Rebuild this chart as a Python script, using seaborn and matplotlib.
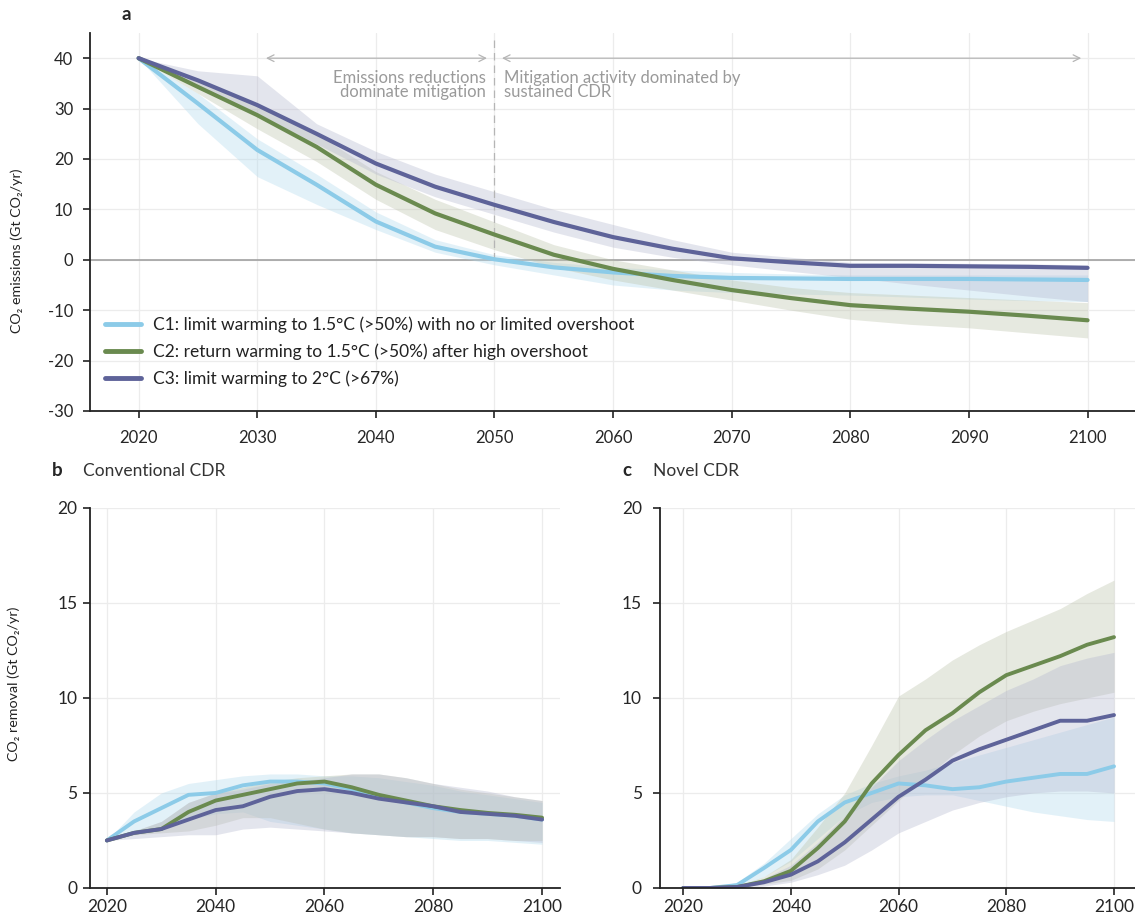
import numpy as np
import pandas as pd
import matplotlib.pyplot as plt
import seaborn as sns

sns.set_theme(style="white")
plt.rcParams['font.family'] = ['Lato', 'DejaVu Sans']
plt.rcParams['axes.unicode_minus'] = False

years = list(range(2020, 2101, 5))
names = ['C1: limit warming to 1.5°C (>50%) with no or limited overshoot',
         'C2: return warming to 1.5°C (>50%) after high overshoot',
         'C3: limit warming to 2°C (>67%)']
line_cols = ['#8ccbe8', '#6a8a4f', '#5e6399']
band_cols = ['#b0daee', '#bcc2a9', '#b4b7cf']

# panel a: net CO2 emissions (median + range)
a_c1 = [40, 31, 21.8, 14.9, 7.6, 2.6, 0.1, -1.5, -2.5, -3.2, -3.6, -3.7, -3.8, -3.8, -3.8, -3.9, -4.0]
a_c2 = [40, 34.3, 28.7, 22.4, 14.9, 9.2, 5.0, 1.0, -1.8, -4.0, -6.0, -7.6, -9.0, -9.7, -10.3, -11.1, -12.0]
a_c3 = [40, 35.6, 30.7, 25.0, 19.1, 14.5, 10.9, 7.5, 4.5, 2.2, 0.3, -0.5, -1.2, -1.2, -1.3, -1.4, -1.6]
a_c1_lo = [40, 27, 16.5, 11, 6, 1.5, -1, -3, -5, -6, -6.5, -6.8, -7, -7.4, -7.8, -8.1, -8.3]
a_c1_hi = [40, 33, 24, 17, 9.5, 4, 1, -0.5, -1.5, -2, -2.5, -2.8, -3, -3, -3, -3, -3]
a_c2_lo = [40, 33, 26, 19.5, 12, 6, 2, -1.5, -4, -6, -8, -10, -11.8, -12.8, -13.5, -14.5, -15.5]
a_c2_hi = [40, 35.5, 31, 25, 17.5, 12, 7.5, 3, 0, -2, -4, -5.5, -6.5, -7, -7.5, -8, -8.5]
a_c3_lo = [40, 34, 29, 23, 17, 12.5, 9, 5.5, 2.5, 0.5, -1, -2.3, -3.5, -4.8, -6, -7.2, -8.3]
a_c3_hi = [40, 37.5, 36.5, 27, 21.5, 17, 13.5, 10, 7, 4, 1.5, 0.5, -0.5, -0.6, -0.7, -0.8, -1]

# panel b: conventional CDR
b_c1 = [2.5, 3.5, 4.2, 4.9, 5.0, 5.4, 5.6, 5.6, 5.5, 5.2, 4.8, 4.5, 4.2, 4.0, 3.9, 3.8, 3.6]
b_c2 = [2.5, 2.9, 3.1, 4.0, 4.6, 4.9, 5.2, 5.5, 5.6, 5.3, 4.9, 4.6, 4.3, 4.1, 3.95, 3.85, 3.7]
b_c3 = [2.5, 2.9, 3.1, 3.6, 4.1, 4.3, 4.8, 5.1, 5.2, 5.0, 4.7, 4.5, 4.3, 4.0, 3.9, 3.8, 3.6]
b_c1_lo = [2.5, 3.0, 3.2, 3.6, 3.9, 4.0, 3.5, 3.3, 3.1, 2.9, 2.8, 2.7, 2.6, 2.5, 2.5, 2.4, 2.3]
b_c1_hi = [2.5, 4.0, 5.0, 5.5, 5.7, 5.9, 6.0, 6.0, 5.9, 5.9, 5.8, 5.6, 5.4, 5.1, 4.9, 4.7, 4.5]
b_c2_lo = [2.5, 2.8, 2.9, 3.0, 3.3, 3.7, 3.7, 3.4, 3.1, 2.9, 2.8, 2.7, 2.7, 2.6, 2.6, 2.5, 2.5]
b_c2_hi = [2.5, 3.0, 3.5, 4.5, 5.0, 5.3, 5.6, 5.8, 5.9, 6.0, 6.0, 5.8, 5.5, 5.2, 5.0, 4.8, 4.6]
b_c3_lo = [2.5, 2.6, 2.7, 2.8, 2.8, 3.1, 3.2, 3.1, 3.0, 2.9, 2.8, 2.7, 2.7, 2.6, 2.6, 2.5, 2.4]
b_c3_hi = [2.5, 3.0, 3.5, 4.5, 5.0, 5.2, 5.5, 5.6, 5.8, 6.0, 6.0, 5.8, 5.5, 5.3, 5.1, 4.8, 4.6]

# panel c: novel CDR
c_c1 = [0, 0, 0.15, 1.05, 2.0, 3.5, 4.5, 5.0, 5.5, 5.4, 5.2, 5.3, 5.6, 5.8, 6.0, 6.0, 6.4]
c_c2 = [0, 0, 0.05, 0.35, 0.9, 2.1, 3.5, 5.5, 7.0, 8.3, 9.2, 10.3, 11.2, 11.7, 12.2, 12.8, 13.2]
c_c3 = [0, 0, 0.05, 0.3, 0.7, 1.4, 2.4, 3.6, 4.8, 5.7, 6.7, 7.3, 7.8, 8.3, 8.8, 8.8, 9.1]
c_c1_lo = [0, 0, 0, 0.6, 1.4, 2.6, 3.8, 4.5, 4.8, 4.9, 4.9, 4.6, 4.3, 4.0, 3.8, 3.6, 3.5]
c_c1_hi = [0, 0, 0.3, 1.3, 2.6, 3.9, 4.9, 5.5, 5.9, 6.2, 6.6, 7.0, 7.4, 7.8, 8.2, 8.6, 9.0]
c_c2_lo = [0, 0, 0, 0.2, 0.4, 1.0, 2.0, 3.3, 4.6, 5.8, 7.0, 8.0, 8.8, 9.3, 9.7, 10.0, 10.3]
c_c2_hi = [0, 0, 0.1, 0.6, 1.5, 3.2, 5.0, 7.5, 10.1, 11.0, 12.0, 12.8, 13.5, 14.1, 14.7, 15.5, 16.2]
c_c3_lo = [0, 0, 0, 0.1, 0.3, 0.7, 1.2, 2.0, 2.9, 3.5, 4.1, 4.5, 4.8, 5.0, 5.1, 5.1, 5.0]
c_c3_hi = [0, 0, 0.1, 0.5, 1.2, 2.4, 3.8, 5.3, 6.7, 7.8, 8.8, 9.6, 10.4, 11.0, 11.7, 12.1, 12.4]


def long_df(c1, c2, c3):
    return pd.DataFrame({'year': years * 3,
                         'value': c1 + c2 + c3,
                         'scenario': [names[0]] * len(years) + [names[1]] * len(years) + [names[2]] * len(years)})


def draw(ax, meds, bands, lw):
    for (lo, hi), col in zip(bands, band_cols):
        ax.fill_between(years, lo, hi, color=col, alpha=0.36, lw=0)
    sns.lineplot(data=long_df(*meds), x='year', y='value', hue='scenario',
                 palette=line_cols, linewidth=lw, ax=ax, legend=(ax is ax_a))
    ax.grid(True, color='#ececec', lw=0.9)
    ax.set_axisbelow(True)
    for s in ['top', 'right']:
        ax.spines[s].set_visible(False)
    for s in ['left', 'bottom']:
        ax.spines[s].set_color('#222222')
        ax.spines[s].set_linewidth(1.3)
    ax.set_xlabel('')


fig = plt.figure(figsize=(11.35, 9.24), dpi=100)
ax_a = fig.add_axes([0.0793, 0.5552, 0.9207, 0.4091])
ax_b = fig.add_axes([0.0793, 0.0390, 0.4141, 0.4113])
ax_c = fig.add_axes([0.5815, 0.0390, 0.4185, 0.4113])

# panel a
ax_a.axhline(0, color='#9a9a9a', lw=1.1, zorder=1)
draw(ax_a, [a_c1, a_c2, a_c3],
     [(a_c1_lo, a_c1_hi), (a_c2_lo, a_c2_hi), (a_c3_lo, a_c3_hi)], 3.0)
ax_a.set_xlim(2015.9, 2104)
ax_a.set_ylim(-30, 45)
ax_a.set_xticks(range(2020, 2101, 10))
ax_a.set_yticks(range(-30, 41, 10))
ax_a.tick_params(axis='x', length=5, width=1.2, color='#222222', pad=9, labelsize=12, bottom=True)
ax_a.tick_params(axis='y', length=5, width=1.2, color='#222222', pad=7, labelsize=12, left=True)
ax_a.set_ylabel('CO₂ emissions (Gt CO₂/yr)', fontsize=10.3, color='#222222')
ax_a.yaxis.set_label_coords(-0.064, 0.425)

# annotations on panel a
ax_a.plot([2050, 2050], [0, 44], color='#b5b5b5', lw=0.9, ls=(0, (6, 4)), zorder=1)
ax_a.annotate('', xy=(2049.6, 40), xytext=(2030.5, 40),
              arrowprops=dict(arrowstyle='<->', color='#b5b5b5', lw=0.9))
ax_a.annotate('', xy=(2099.7, 40), xytext=(2050.4, 40),
              arrowprops=dict(arrowstyle='<->', color='#b5b5b5', lw=0.9))
ax_a.text(2049.3, 37.6, 'Emissions reductions\ndominate mitigation', ha='right', va='top',
          fontsize=12, color='#9a9a9a', linespacing=0.8)
ax_a.text(2050.8, 37.6, 'Mitigation activity dominated by\nsustained CDR', ha='left', va='top',
          fontsize=12, color='#9a9a9a', linespacing=0.8)

leg = ax_a.legend(loc='upper left', bbox_to_anchor=(0.014, 0.25), frameon=False,
                  fontsize=12.5, handlelength=2.1, handletextpad=0.7, labelspacing=0.6,
                  borderpad=0, borderaxespad=0)
for h in leg.get_lines():
    h.set_linewidth(3.5)
for t in leg.get_texts():
    t.set_color('#222222')

# panel b
draw(ax_b, [b_c1, b_c2, b_c3],
     [(b_c1_lo, b_c1_hi), (b_c2_lo, b_c2_hi), (b_c3_lo, b_c3_hi)], 2.8)
ax_b.set_xlim(2016.9, 2103.3)
ax_b.set_ylim(0, 20)
ax_b.set_ylabel('CO₂ removal (Gt CO₂/yr)', fontsize=10.3, color='#222222')
ax_b.yaxis.set_label_coords(-0.149, 0.537)

# panel c
draw(ax_c, [c_c1, c_c2, c_c3],
     [(c_c1_lo, c_c1_hi), (c_c2_lo, c_c2_hi), (c_c3_lo, c_c3_hi)], 2.8)
ax_c.set_xlim(2015.7, 2103.9)
ax_c.set_ylim(0, 20)
ax_c.set_ylabel('')

for ax, ypad in [(ax_b, 4), (ax_c, 8)]:
    ax.set_xticks(range(2020, 2101, 20))
    ax.set_yticks(range(0, 21, 5))
    ax.tick_params(axis='x', length=5, width=1.2, color='#222222', pad=3, labelsize=12.5, bottom=True)
    ax.tick_params(axis='y', length=5, width=1.2, color='#222222', pad=ypad, labelsize=12.5, left=True)

# panel labels
fig.text(0.111, 1 - 15 / 924, 'a', fontsize=13.5, weight='bold', ha='center', va='center')
fig.text(0.0502, 1 - 471 / 924, 'b', fontsize=13.5, weight='bold', ha='center', va='center')
fig.text(0.0731, 1 - 471 / 924, 'Conventional CDR', fontsize=12.5, ha='left', va='center', color='#333333')
fig.text(0.5524, 1 - 471 / 924, 'c', fontsize=13.5, weight='bold', ha='center', va='center')
fig.text(0.5753, 1 - 471 / 924, 'Novel CDR', fontsize=12.5, ha='left', va='center', color='#333333')

fig.savefig('out.png', dpi=100)
